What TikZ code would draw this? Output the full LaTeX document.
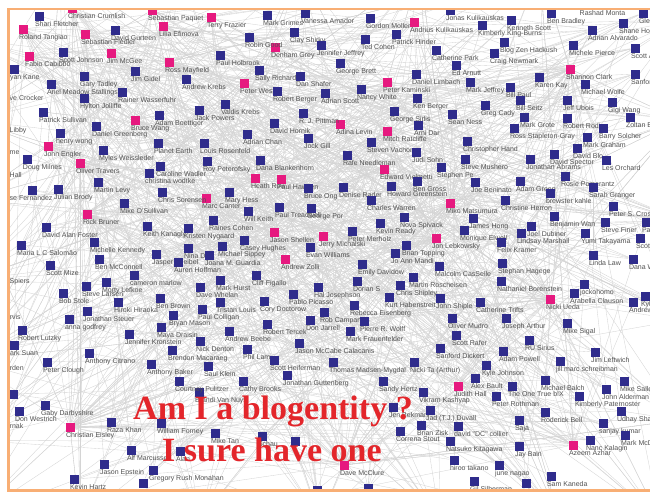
\documentclass[tikz,border=0pt]{standalone}
\usepackage{fontspec}
\setmainfont{Liberation Serif}
\newfontfamily\namefont{Liberation Sans}
\usepackage{tikz}
\usetikzlibrary{backgrounds}
\definecolor{usrblue}{HTML}{2F2C8C}
\definecolor{hubpink}{HTML}{E6197F}
\definecolor{frameorange}{HTML}{F8AE74}
\definecolor{edgegray}{HTML}{D4D4D4}
\definecolor{sloganred}{HTML}{E3262B}

\begin{document}
\begin{tikzpicture}[x=1pt,y=-1pt,
  usr/.style={rectangle,fill=usrblue,minimum size=9pt,inner sep=0pt},
  hub/.style={usr,fill=hubpink},
  lbl/.style={anchor=north west,inner sep=0.5pt,font=\namefont\fontsize{7}{8}\selectfont,text=black!68},
  cut/.style={lbl,anchor=west},
  edge/.style={draw=edgegray,line width=0.35pt},
  frame/.style={draw=frameorange,line width=2.6pt},
  slogan/.style={anchor=base west,inner sep=0pt,text=sloganred,font=\bfseries\fontsize{34}{36}\selectfont}
]
\useasboundingbox (0,0) rectangle (650,493);
\begin{scope}
\clip (9.8,10.3) rectangle (650,489);
% pink hubs
\foreach \n/\x/\y/\t [count=\i] in {
  ccrum/72/8/Christian Crumlish, spaq/152/10/Sebastian Paquet, tfraz/211/17/Terry Frazier,
  rtang/23/29/Roland Tangiao, lefim/163/26/Lilia Efimova, sfied/85/34/Sebastian Fiedler,
  fcab/29/56/Fabio Cabibbo, jmcgee/111/53/Jim McGee, rmay/169/62/Ross Mayfield,
  bwang/135/120/Bruce Wang, jengl/48/146/John Engler, otrav/80/163/Oliver Travers,
  akul/414/22/Andrius Kulikauskas, dgrey/275/47/Denham Grey, pwest/244/83/Peter West,
  pkam/387/82/Peter Kaminski, alevin/340/124/Adina Levin, mratc/387/131/Mitch Ratcliffe,
  sclark/570/69/Shannon Clark, mcant/206/198/Marc Canter, rbrun/87/214/Rick Bruner,
  evielm/384/169/Edward Vielmetti, hrow/255/178/Heath Row, phaw/281/179/Paul Hawken,
  jshel/274/232/Jason Shellen, jmich/323/236/Jerry Michalski, azolli/285/259/Andrew Zolli,
  miko/450/203/Miko Matsumura, jlebk/436/238/Jon Lebkowsky, nueda/550/299/Nicki Ueda,
  ceis/70/427/Christian Eisley, dmcc/344/465/Dave McClure, jhall/458/386/Judith Hall,
  aazh/573/445/Azeem Azhar}
  {\node[hub,alias=h\i,label={[lbl]225:\t}] (\n) at (\x,\y) {}; \xdef\nhub{\i}}
% blue users
\foreach \n/\x/\y/\t [count=\i] in {
  sflet/39/16/Shari Fletcher, dgurt/115/30/David Gurteen, sjohn/63/52/Scott Johnson,
  ykane/14/69/yan Kane, jgidel/135/71/Jim Gidel, gtad/84/76/Gary Tadley,
  amead/51/84/Ariel Meadow Stallings, rwass/122/92/Rainer Wasserfuhr, hjoll/84/98/Hylton Jolliffe,
  akreb/186/79/Andrew Krebs, psull/43/112/Patrick Sullivan, aboet/159/115/Adam Boettiger,
  jpow/199/110/Jack Powers, dgreen/96/126/Daniel Greenberg, hwong/60/133/henry wong,
  myles/103/150/Myles Weissleder, pearth/158/143/Planet Earth, lrosen/204/143/Louis Rosenfeld,
  dmil/27/159/Doug Milnes, cwad/160/166/Caroline Wadler, cwod/149/173/christina wodtke,
  rpet/207/161/Roy Peterofsky, mgrim/267/15/Mark Grimes, vamad/305/13/Vanessa Amador,
  gmol/370/18/Gordon Moller, rgood/249/37/Robin Good, cshir/294/32/Clay Shirky,
  jjef/321/45/Jennifer Jeffrey, tcoh/365/39/Ted Cohen, phind/396/34/Patrick Hinder,
  pholb/220/55/Paul Holbrook, srich/259/70/Sally Richards, dshaf/300/76/Dan Shafer,
  gbrett/340/63/George Brett, dlimb/416/74/Daniel Limbach, rberg/277/91/Robert Berger,
  ascott/325/93/Adrian Scott, nwhite/361/89/Nancy White, kberg/417/98/Ken Berger,
  vkreb/225/104/Valdis Krebs, rjpitt/303/113/R. J. Pittman, dhorn/274/123/David Hornik,
  gsir/394/111/George Sirlis, adar/418/125/Arni Dar, achan/247/134/Adrian Chan,
  jgill/308/138/Jock Gill, svach/371/142/Steven Vachon, jsohn/416/152/Judi Sohn,
  rneed/347/155/Rafe Needleman, dblank/260/160/Dana Blankenhorn, jkul/450/10/Jonas Kulikauskas,
  bbrad/551/13/Ben Bradley, gle/643/13/Glenn, kscott/511/20/Kenneth Scott,
  kking/482/25/Kimberly King-Burns, shope/623/23/Shane Hope, aalv/592/30/Adrian Alvarado,
  bzen/504/42/Blog Zen Hackush, cpark/436/50/Catherine Park, cnew/494/53/Craig Newmark,
  mpier/573/45/Michele Pierce, scotta/635/48/Scott Allen, earn/456/65/Ed Arnutt,
  kkay/539/77/Karen Kay, mjef/470/82/Mark Jeffrey, bpaul/510/87/Bill Paul,
  mwolfe/585/84/Michael Wolfe, sanf/635/74/Sanford, bseitz/520/100/Bill Seitz,
  jubois/567/100/Jeff Ubois, gwang/612/102/Gigi Wang, gcady/485/105/Greg Cady,
  sness/452/114/Sean Ness, mgrote/524/117/Mark Grote, rrodin/567/118/Robert Rodin,
  zolt/630/117/Zoltan Bi, rstap/514/128/Ross Stapleton-Gray, bsolch/603/128/Barry Solcher,
  mgrah/587/137/Mark Graham, chand/467/141/Christopher Hand, dblo/577/148/David Blo,
  dspec/554/154/David Spector, smush/465/159/Steve Mushero, jabr/530/159/Jonathan Abrams,
  lorch/606/160/Les Orchard, spe/441/167/Stephen Pe, jbenin/475/182/Joe Beninato,
  agreen/520/181/Adam Green, rpom/565/176/Rosie Pomerantz, sgran/593/187/Sarah Granger,
  bkahle/550/193/brewster kahle, cherr/505/200/Christine Herron, pcros/613/206/Peter S. Crosby,
  jhong/473/218/James Hong, bwan/554/216/Benjamin Wan, sfiner/605/222/Steve Finer,
  pb/646/222/Pa, melw/464/230/Monique Elwell, jdub/531/226/Joel Dubiner,
  lmarsh/521/233/Lindsay Marshall, ytak/585/233/Yumi Takayama, scottb/640/238/Scott,
  fkram/501/242/Felix Kramer, llaw/593/255/Linda Law, danaw/633/259/Dana Wh,
  mcass/439/266/Malcolm CasSelle, shag/502/263/Stephan Hagege, nbor/501/281/Nathaniel Borenstein,
  jocko/584/284/jockohomo, aclau/574/293/Arabella Clauson, kyl/645/296/Kyle,
  andr/633/302/Andrew, ctrif/480/302/Catherine Trifts, jship/440/298/John Shiple,
  omud/452/318/Oliver Mudro, jarth/506/318/Joseph Arthur, msigal/567/323/Mike Sigal,
  b32/32/190/, jbrody/58/189/Julian Brody, mlevy/98/182/Martin Levy,
  mosul/124/203/Mike O'Sullivan, csor/162/192/Chris Sorensen, dfost/46/227/David Alan Foster,
  kkan/147/226/Keith Kanagly, knyg/188/228/Kristen Nygaard, rcoh/213/220/Raines Cohen,
  mkenn/94/242/Michelle Kennedy, msal/21/245/Maria L C Salomão, ninad/188/248/Nina D,
  jguard/209/255/Joana M. Guardia, msipp/222/246/Michael Sippey, jshei/156/254/Jasper Sheibel,
  ahoff/178/262/Auren Hoffman, bmcc/99/259/Ben McConnell, smize/50/265/Scott Mize,
  cmar/134/275/cameron marlow, mlef/106/282/Morty Lefkoe, slars/86/286/Steve Larsen,
  bbrown/160/298/Ben Brown, dwhel/200/287/Dave Whelan, bstole/63/293/Bob Stole,
  hhir/118/302/Hiroki Hiraoka, pcoll/202/309/Paul Colligan, jsteu/87/311/Jonathan Steuer,
  bmason/173/315/Bryan Mason, agod/69/319/anna godfrey, rlutz/22/330/Robert Lutzky,
  mdrai/161/327/Maya Draisin, jkron/129/334/Jennifer Kronstein, mhess/229/192/Mary Hess,
  bong/308/188/Bruce Ong, drader/343/187/Denise Rader, hgreen/391/186/Howard Greenstein,
  bgross/417/181/Ben Gross, wkeith/248/211/Will Keith, ptread/279/207/Paul Treadwell,
  gpor/311/208/George Por, cwarr/371/200/Charles Warren, nspiv/404/217/Nova Spivack,
  kready/380/223/Kevin Ready, pmerh/352/231/Peter Merholz, ewill/310/247/Evan Williams,
  btopp/406/245/Brian Topping, jmand/395/253/Jo Ann Mandi, chugh/244/240/Casey Hughes,
  edav/362/264/Emily Davidow, cfig/256/275/Cliff Figallo, mhurst/220/280/Mark Hurst,
  dorian/357/281/Dorian S, hjos/318/287/Hal Josephson, mrosch/413/277/Martin Roscheisen,
  cship/400/285/Chris Shipley, khab/389/297/Kurt Habenstreit, ppic/293/294/Pablo Picasso,
  cdoc/264/301/Cory Doctorow, tlouis/220/302/Tristan Louis, reis/354/305/Rebecca Eisenberg,
  rcamp/324/312/Rob Campanelli, pwolff/364/321/Pierre R. Wolff, djar/310/320/Don Jarrell,
  rterc/267/324/Robert Tercek, abeebe/229/331/Andrew Beebe, mfrau/350/331/Mark Frauenfelder,
  jcal/299/343/Jason McCabe Calacanis, sheif/274/360/Scott Heiferman, tmads/333/362/Thomas Madsen-Mygdal,
  nickt/414/362/Nicki Ta (Arthur), jgutt/287/375/Jonathan Guttenberg, cbrook/243/381/Cathy Brooks,
  shertz/383/381/Sandy Hertz, vkash/423/392/Vikram Kashyap, jbek/393/407/Jen Bekman,
  jduv/430/410/Jad (T.J.) Duvall, bzisk/421/425/Brian Zisk, cstout/400/431/Correna Stout,
  mtan/215/433/Mike Tan, schau/262/436/Schau, b295/295/441/,
  bvnuys/199/392/Brandi Van Nuys, asuan/14/345/ark Suan, acit/89/353/Anthony Citrano,
  bmac/172/350/Brendon Macaraeg, ndent/200/341/Nick Denton, pclough/47/362/Peter Clough,
  abaker/151/364/Anthony Baker, sklein/208/366/Saul Klein, plam/247/349/Phil Lam,
  cpul/179/381/Courtney Pulitzer, gdarb/45/405/Gaby Darbyshire, dwest/19/411/Don Westrich,
  b13/13/394/, rkhan/111/422/Raza Khan, wforn/161/423/William Forney,
  amarc/131/450/Alf Marcussen, alan/180/451/Alan, jeps/104/464/Jason Epstein,
  gmon/153/470/Gregory Rush Monahan, khartz/74/479/Kevin Hartz, b143/143/483/,
  b317/317/490/, b368/368/488/, srafer/456/335/Scott Rafer,
  rusir/529/340/RU Sirius, sdick/440/348/Sanford Dickert, apow/503/351/Adam Powell,
  jleft/595/352/Jim Leftwich, jmarc/560/361/jill marc schreibman, kjohn/486/365/Kyle Johnson,
  abault/475/378/Alex Bault, tot/512/386/The One True b!X, mbalch/545/380/Michael Balch,
  msall/624/381/Mike Sallee, jald/606/389/John Alderman, kpat/579/396/Kimberly Paternoster,
  proth/496/396/Peter Rothman, udhay/621/411/Udhay Shankar, rbell/545/412/Roderick Bell,
  saja/519/420/Saja, sanj/603/423/sanjay kumar, mmcd/625/435/Mark McDonald,
  nkal/590/440/Nanc Kalagin, dcoll/458/426/david "DC" collier, nkit/450/441/Natsuko Kitagawa,
  jbain/519/446/Jay Bain, htak/454/460/hiroo takano, jnag/499/465/june nagao,
  gsil/474/481/Gil Silberman, skan/551/476/Sam Kaneda, b526/526/483/}
  {\node[usr,alias=p\i,label={[lbl]225:\t}] (\n) at (\x,\y) {}; \xdef\nusr{\i}}
% labels whose squares lie outside the frame
\node[cut] (tcrock) at (9,98) {ve Crocker};
\node[cut] (tlibby) at (9,131) {Libby};
\node[cut] (tme) at (9,153) {me};
\node[cut] (thall) at (9,175) {Hall};
\node[cut] (tferr) at (9,198) {se Fernandez};
\node[cut] (tspier) at (9,282) {Spiers};
\node[cut] (trvis) at (9,317) {rvis};
\node[cut] (trden) at (9,368) {rden};
\node[cut] (trnak) at (9,426) {rnak};
\node[cut] (trash) at (579,13) {Rashad Monta};
% links leaving the frame
\foreach \x/\y [count=\i] in {-30/40,-30/120,-30/200,-30/280,-30/360,-30/440,-30/520,
  60/-30,180/-30,300/-30,420/-30,540/-30,680/20,680/120,680/220,680/320,680/420,
  80/520,200/520,320/520,440/520,560/520,660/520}
  {\coordinate (o\i) at (\x,\y); \xdef\noff{\i}}
\end{scope}

\begin{pgfonlayer}{background}
\clip (9.8,10.3) rectangle (650,489);
\pgfmathsetseed{4711}
\foreach \k in {1,...,230}{
  \pgfmathrandominteger{\a}{1}{\nusr}
  \pgfmathrandominteger{\b}{1}{\nusr}
  \draw[edge] (p\a) -- (p\b);
}
\foreach \j in {1,...,\nhub}{
  \foreach \k in {1,...,14}{
    \pgfmathrandominteger{\a}{1}{\nusr}
    \draw[edge] (h\j) -- (p\a);
  }
  \foreach \k in {1,...,7}{
    \pgfmathrandominteger{\a}{1}{\noff}
    \draw[edge] (h\j) -- (o\a);
  }
}
% the busiest hubs fan out further
\foreach \h in {rmay,ceis,dmcc,rbrun,sclark,miko,jlebk,nueda}{
  \foreach \k in {1,...,18}{
    \pgfmathrandominteger{\a}{1}{\nusr}
    \draw[edge] (\h) -- (p\a);
  }
  \foreach \k in {1,...,10}{
    \pgfmathrandominteger{\a}{1}{\noff}
    \draw[edge] (\h) -- (o\a);
  }
}
\end{pgfonlayer}

\node[slogan] (ami) at (133,419) {Am I a blogentity ?};
\node[slogan] (isure) at (162,461) {I sure have one};
\draw[frame] (650,9) -- (8.5,9) -- (8.5,490.5) -- (650,490.5);
\end{tikzpicture}
\end{document}
